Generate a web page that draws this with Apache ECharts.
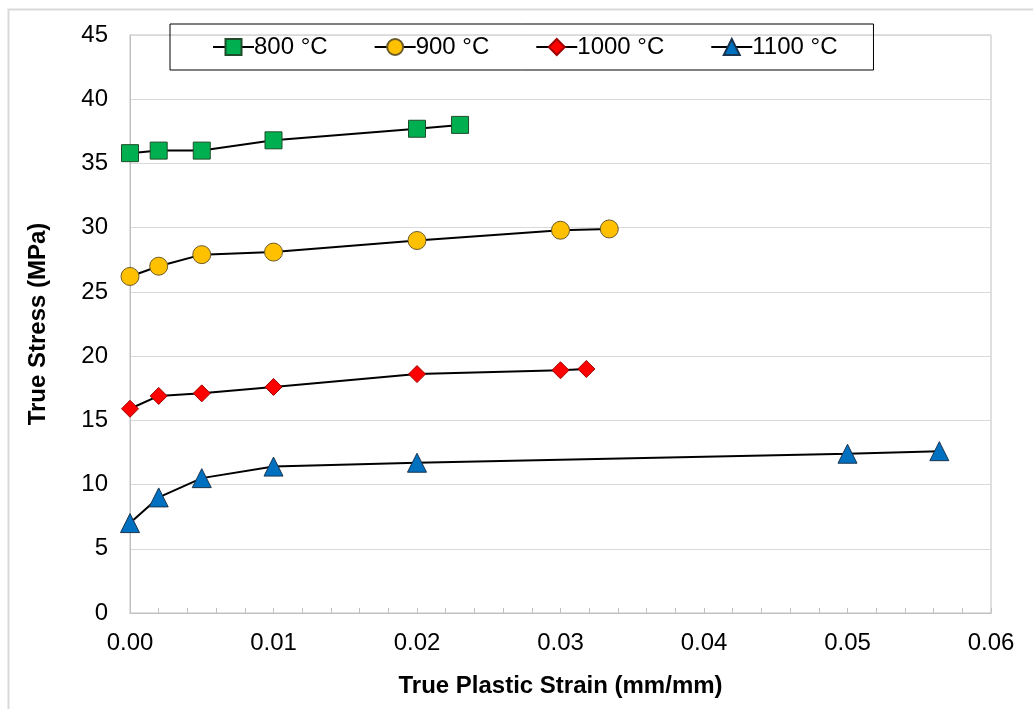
<!DOCTYPE html>
<html>
<head>
<meta charset="utf-8">
<script src="https://cdn.jsdelivr.net/npm/echarts@6/dist/echarts.min.js"></script>
<style>html,body{margin:0;padding:0;background:#fff;}#c{width:1033px;height:709px;}</style>
</head>
<body>
<div id="c"></div>
<script>
const seriesNames = ['800 °C', '900 °C', '1000 °C', '1100 °C'];
const strain800 = [0, 0.002, 0.005, 0.01, 0.02, 0.023];
const stress800 = [35.8, 36.0, 36.0, 36.8, 37.7, 38.0];
const strain900 = [0, 0.002, 0.005, 0.01, 0.02, 0.03, 0.0334];
const stress900 = [26.2, 27.0, 27.9, 28.1, 29.0, 29.8, 29.9];
const strain1000 = [0, 0.002, 0.005, 0.01, 0.02, 0.03, 0.0318];
const stress1000 = [15.9, 16.9, 17.1, 17.6, 18.6, 18.9, 19.0];
const strain1100 = [0, 0.002, 0.005, 0.01, 0.02, 0.05, 0.0564];
const stress1100 = [7.0, 9.0, 10.5, 11.4, 11.7, 12.4, 12.6];
const xTicks = [0, 0.01, 0.02, 0.03, 0.04, 0.05, 0.06];
const yTicks = [0, 5, 10, 15, 20, 25, 30, 35, 40, 45];

const pairs = (xs, ys) => xs.map((x, i) => [x, ys[i]]);
const FONT = 'Liberation Sans, Arial, sans-serif';

const styles = [
  { symbol: 'rect', size: 17, color: '#00B050', border: '#1f4d2b' },
  { symbol: 'circle', size: 18, color: '#FFC000', border: '#6b5a2a' },
  { symbol: 'diamond', size: 17, color: '#FF0000', border: '#a00000' },
  { symbol: 'triangle', size: 19, color: '#0070C0', border: '#1a3550' }
];
const datasets = [
  pairs(strain800, stress800),
  pairs(strain900, stress900),
  pairs(strain1000, stress1000),
  pairs(strain1100, stress1100)
];

const chart = echarts.init(document.getElementById('c'));
chart.setOption({
  animation: false,
  backgroundColor: '#fff',
  graphic: [{
    type: 'rect', left: 6, top: 7, shape: { x: 0, y: 0, width: 1100, height: 800 },
    style: { fill: 'none', stroke: '#d9d9d9', lineWidth: 2 }, silent: true, z: -1
  }],
  legend: {
    left: 170, top: 24,
    data: seriesNames,
    orient: 'horizontal',
    borderColor: '#000', borderWidth: 1,
    padding: [11, 36, 11, 42],
    itemGap: 46,
    itemWidth: 41, itemHeight: 20,
    textStyle: { fontFamily: FONT, fontSize: 24, color: '#000', padding: [2, 0, 0, -5] }
  },
  grid: {
    left: 130, top: 35, right: 42, bottom: 96,
    show: true, borderColor: '#c0c0c0', borderWidth: 1
  },
  xAxis: {
    type: 'value', min: 0, max: 0.06, interval: 0.01,
    name: 'True Plastic Strain (mm/mm)', nameLocation: 'middle', nameGap: 61,
    nameTextStyle: { fontFamily: FONT, fontSize: 24, fontWeight: 'bold', color: '#000' },
    axisLine: { show: true, lineStyle: { color: '#c0c0c0', width: 1 } },
    axisTick: { show: true, inside: true, length: 5, lineStyle: { color: '#c0c0c0' } },
    minorTick: { show: true, splitNumber: 5, length: 5, lineStyle: { color: '#c0c0c0' } },
    splitLine: { show: false },
    axisLabel: { fontFamily: FONT, fontSize: 24, color: '#000', margin: 18,
      formatter: v => v.toFixed(2) }
  },
  yAxis: {
    type: 'value', min: 0, max: 45, interval: 5,
    name: 'True Stress (MPa)', nameLocation: 'middle', nameGap: 80,
    nameTextStyle: { fontFamily: FONT, fontSize: 24, fontWeight: 'bold', color: '#000' },
    axisLine: { show: true, lineStyle: { color: '#c0c0c0', width: 1 } },
    axisTick: { show: false },
    splitLine: { show: true, lineStyle: { color: '#d9d9d9', width: 1 } },
    axisLabel: { fontFamily: FONT, fontSize: 24, color: '#000', margin: 22 }
  },
  series: seriesNames.map((n, i) => ({
    name: n, type: 'line', data: datasets[i],
    symbol: styles[i].symbol, symbolSize: styles[i].size,
    lineStyle: { color: '#000', width: 2 },
    itemStyle: { color: styles[i].color, borderColor: styles[i].border, borderWidth: 1 },
    z: 3
  }))
});
</script>
</body>
</html>
